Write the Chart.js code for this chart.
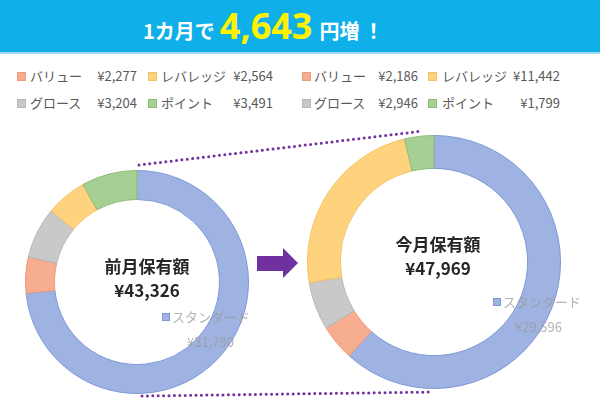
<!DOCTYPE html>
<html>
<head>
<meta charset="utf-8">
<script src="https://cdn.jsdelivr.net/npm/chart.js@4/dist/chart.umd.min.js"></script>
<style>
    body { margin: 0; width: 600px; height: 398px; background: #fff; position: relative; overflow: hidden;
           font-family: "Noto Sans CJK JP", "Noto Sans", sans-serif; }
    .header { position: absolute; left: 0; top: 0; width: 600px; height: 52px; background: #0fb0ea;
              border-bottom: 2px solid #9fdcf3; }
    .title { position: absolute; left: 143px; top: 0; height: 52px; line-height: 52px; white-space: nowrap;
             font-weight: bold; color: #fff; font-size: 20px; }
    .title .big { color: #fff200; font-size: 36px; font-family: "Open Sans", "Noto Sans", sans-serif; margin: 0 7px 0 5px; }
    .title .bang { margin-left: 4px; }
    .leg { position: absolute; font-size: 13px; color: #595959; line-height: 16px; white-space: nowrap; }
    .sq { position: absolute; width: 9px; height: 9px; box-sizing: border-box; }
    .chart-box { position: absolute; }
    svg { position: absolute; left: 0; top: 0; }
</style>
</head>
<body>
<div class="header">
    <div class="title">1カ月で<span class="big">4,643</span>円増<span class="bang">！</span></div>
</div>
<div id="legends"></div>
<svg width="600" height="398">
    <line x1="139" y1="165" x2="423" y2="131" stroke="#7030a0" stroke-width="3" stroke-linecap="round" stroke-dasharray="0 5.4"/>
    <line x1="142" y1="396" x2="433" y2="392" stroke="#7030a0" stroke-width="3" stroke-linecap="round" stroke-dasharray="0 5.4"/>
    <polygon points="257,256 283,256 283,248 298,263 283,278 283,271 257,271" fill="#7030a0"/>
</svg>
<div class="chart-box" style="left:25px;top:170px;width:244px;height:224px;"><canvas id="prevChart"></canvas></div>
<div class="chart-box" style="left:307px;top:135px;width:290px;height:254px;"><canvas id="nowChart"></canvas></div>

<script>
// order: standard, value, growth, leverage, point (clockwise from top)
const categories = ['スタンダード', 'バリュー', 'グロース', 'レバレッジ', 'ポイント'];
const prevValues = [31790, 2277, 3204, 2564, 3491];
const nowValues = [29596, 2186, 2946, 11442, 1799];
const prevTitle = '前月保有額';
const nowTitle = '今月保有額';

const fills = ['#9fb3e3', '#f7ad8f', '#c9c9c9', '#ffd37e', '#a5cf93'];
const borders = ['#7e98d6', '#ee9a78', '#b5b5b5', '#f3c263', '#8dbd79'];

const yen = v => '¥' + v.toLocaleString('en-US');
const total = arr => arr.reduce((a, b) => a + b, 0);

// legend blocks (index into categories), two rows x two columns
const legendOrder = [[1, 3], [2, 4]];

function renderLegend(values, x0, cols) {
    const host = document.getElementById('legends');
    const rowsY = [68, 95];
    legendOrder.forEach((row, r) => {
        row.forEach((idx, c) => {
            const col = cols[c];
            host.insertAdjacentHTML('beforeend', `
                <div class="sq" style="left:${x0 + col.sq}px;top:${rowsY[r] + 4}px;background:${fills[idx]};border:1px solid ${borders[idx]}"></div>
                <div class="leg" style="left:${x0 + col.name}px;top:${rowsY[r]}px">${categories[idx]}</div>
                <div class="leg" style="right:${600 - x0 - col.valEnd}px;top:${rowsY[r]}px">${yen(values[idx])}</div>
            `);
        });
    });
}

renderLegend(prevValues, 0, [{ sq: 17, name: 30, valEnd: 137 }, { sq: 148, name: 161, valEnd: 273 }]);
renderLegend(nowValues, 300, [{ sq: 2, name: 14, valEnd: 118 }, { sq: 128, name: 142, valEnd: 260 }]);

const centerText = {
    id: 'centerText',
    afterDraw(chart, args, opts) {
        const { ctx } = chart;
        const arc = chart.getDatasetMeta(0).data[0];
        const cx = arc.x, cy = arc.y;
        const values = chart.data.datasets[0].data;
        ctx.save();
        ctx.fillStyle = '#262626';
        ctx.font = 'bold 17px "Noto Sans CJK JP"';
        ctx.textAlign = 'center';
        ctx.textBaseline = 'middle';
        ctx.fillText(opts.title, cx + opts.dx, cy + opts.dy);
        ctx.fillText(yen(total(values)), cx + opts.dx, cy + opts.dy + 24);

        // data label for the standard slice
        const lx = cx + opts.labelDx, ly = cy + opts.labelDy;
        ctx.fillStyle = fills[0];
        ctx.strokeStyle = borders[0];
        ctx.fillRect(lx, ly - 4, 8, 8);
        ctx.strokeRect(lx + 0.5, ly - 3.5, 7, 7);
        ctx.globalAlpha = 0.75;
        ctx.fillStyle = '#9a9a9a';
        ctx.font = '13px "Noto Sans CJK JP"';
        ctx.textAlign = 'left';
        ctx.fillText(categories[0], lx + 10, ly);
        ctx.fillText(yen(values[0]), lx + opts.valueDx, ly + 25);
        ctx.restore();
    }
};

function makeDoughnut(id, values, padRight, pluginOpts) {
    return new Chart(document.getElementById(id), {
        type: 'doughnut',
        data: {
            labels: categories,
            datasets: [{
                data: values,
                backgroundColor: fills,
                borderColor: borders,
                borderWidth: 1,
                hoverOffset: 0
            }]
        },
        options: {
            responsive: true,
            maintainAspectRatio: false,
            animation: false,
            cutout: '74%',
            layout: { padding: { right: padRight } },
            plugins: {
                legend: { display: false },
                tooltip: { enabled: false },
                centerText: pluginOpts
            }
        },
        plugins: [centerText]
    });
}

makeDoughnut('prevChart', prevValues, 20, { title: prevTitle, dx: 10, dy: -15, labelDx: 25, labelDy: 35, valueDx: 25 });
makeDoughnut('nowChart', nowValues, 36, { title: nowTitle, dx: 4, dy: -17, labelDx: 59, labelDy: 40, valueDx: 22 });
</script>
</body>
</html>
